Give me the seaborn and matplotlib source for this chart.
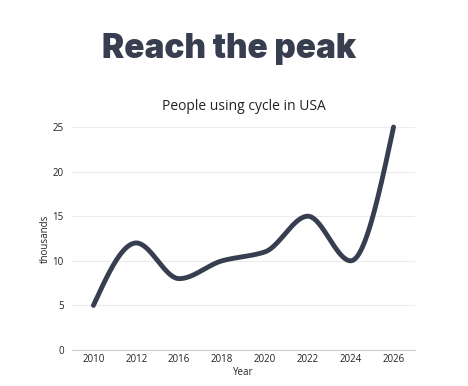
import numpy as np
import pandas as pd
import seaborn as sns
import matplotlib.pyplot as plt

years = ['2010', '2012', '2016', '2018', '2020', '2022', '2024', '2026']
riders = [5, 12, 8, 10, 11, 15, 10, 25]
y_ticks = [0, 5, 10, 15, 20, 25]

DARK = '#363e4f'

sns.set_theme(style='white')
plt.rcParams['font.family'] = ['Open Sans', 'DejaVu Sans']


def monotone_curve(xs, ys, n=40):
    # monotone cubic (Fritsch-Carlson) used only to draw the smooth line
    xs = np.asarray(xs, float)
    ys = np.asarray(ys, float)
    h = np.diff(xs)
    d = np.diff(ys) / h
    m = np.zeros_like(ys)
    for i in range(1, len(ys) - 1):
        if d[i - 1] * d[i] <= 0:
            m[i] = 0
        else:
            m[i] = 3 * (h[i - 1] + h[i]) / ((2 * h[i] + h[i - 1]) / d[i - 1] + (h[i] + 2 * h[i - 1]) / d[i])
    # d3 style endpoints
    m[0] = (3 * d[0] - m[1]) / 2
    m[-1] = (3 * d[-1] - m[-2]) / 2
    px, py = [], []
    for i in range(len(xs) - 1):
        t = np.linspace(0, 1, n)
        h00 = 2 * t**3 - 3 * t**2 + 1
        h10 = t**3 - 2 * t**2 + t
        h01 = -2 * t**3 + 3 * t**2
        h11 = t**3 - t**2
        px.extend(xs[i] + t * h[i])
        py.extend(h00 * ys[i] + h10 * h[i] * m[i] + h01 * ys[i + 1] + h11 * h[i] * m[i + 1])
    return np.array(px), np.array(py)


pos = np.arange(len(years))
cx, cy = monotone_curve(pos, riders)
curve = pd.DataFrame({'x': cx, 'y': cy})

fig = plt.figure(figsize=(4.68, 3.86), dpi=100)
ax = fig.add_axes([72 / 468, 36 / 386, 343 / 468, 223 / 386])

sns.lineplot(data=curve, x='x', y='y', ax=ax, color=DARK, linewidth=3.5,
             solid_capstyle='round', sort=False)
for ln in ax.lines:
    ln.set_clip_on(False)

ax.set_xlim(-0.5, len(years) - 0.5)
ax.set_ylim(0, 25)
ax.set_xticks(pos)
ax.set_xticklabels(years)
ax.set_yticks(y_ticks)
ax.tick_params(axis='both', length=0, labelsize=7, colors='#222222')
ax.tick_params(axis='y', pad=6)
ax.tick_params(axis='x', pad=3)
ax.grid(axis='y', color='#ececec', linewidth=0.8)
ax.grid(axis='x', visible=False)
for s in ['top', 'right', 'left']:
    ax.spines[s].set_visible(False)
ax.spines['bottom'].set_color('#cccccc')
ax.spines['bottom'].set_linewidth(0.8)
ax.set_xlabel('Year', fontsize=7, color='#222222', labelpad=1)
ax.set_ylabel('thousands', fontsize=7, color='#222222', labelpad=1)
ax.set_title('People using cycle in USA', fontsize=10, color='#222222', pad=12)

fig.text(229 / 468, 1 - 49 / 386, 'Reach the peak', fontsize=24, fontweight='black',
         color=DARK, ha='center', va='center', family=['Inter', 'DejaVu Sans'])

fig.savefig('out.png', dpi=100, facecolor='white')
